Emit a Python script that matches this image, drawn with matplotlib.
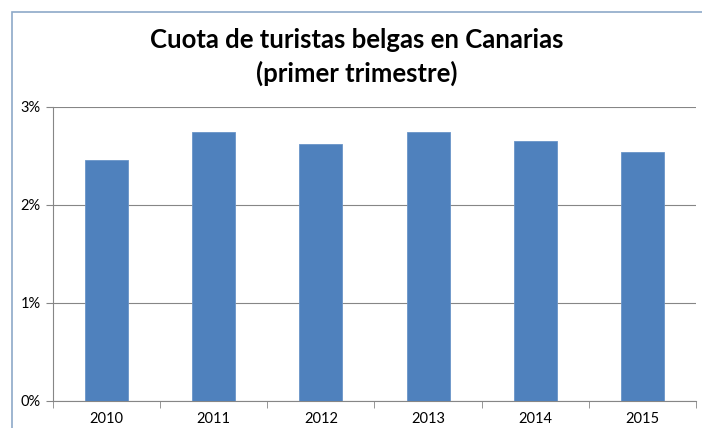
import matplotlib.pyplot as plt
from matplotlib.patches import Rectangle
from matplotlib.ticker import FuncFormatter, FixedLocator
import numpy as np

years = ["2010", "2011", "2012", "2013", "2014", "2015"]
share = [2.46, 2.74, 2.62, 2.74, 2.65, 2.545]
yticks = [0, 1, 2, 3]

plt.rcParams['font.family'] = ['Lato', 'DejaVu Sans']

fig = plt.figure(figsize=(7.02, 4.28), dpi=100)
ax = fig.add_axes([53/702, 1 - 401/428, (696-53)/702, (401-107)/428])

x = np.arange(len(years))
ax.bar(x, share, width=0.4, color='#4F81BD', edgecolor='#6A94C8', linewidth=0.6, zorder=3)
ax.set_xlim(-0.5, len(years) - 0.5)
ax.set_ylim(0, 3)
ax.set_yticks(yticks)
ax.yaxis.set_major_formatter(FuncFormatter(lambda v, p: f"{int(v)}%"))
ax.set_xticks(x)
ax.set_xticklabels(years)
ax.xaxis.set_minor_locator(FixedLocator(np.arange(-0.5, len(years), 1.0)))
ax.tick_params(axis='x', which='major', length=0, pad=8, labelsize=10.5)
ax.tick_params(axis='x', which='minor', length=5, color='#868686', direction='out')
ax.tick_params(axis='y', length=5, color='#868686', labelsize=10.5, pad=4)
ax.grid(axis='y', color='#868686', linewidth=0.8, zorder=0)
for s in ['top', 'right']:
    ax.spines[s].set_visible(False)
for s in ['left', 'bottom']:
    ax.spines[s].set_color('#868686')
    ax.spines[s].set_linewidth(0.8)

fig.text(357/702, 1 - 40/428, "Cuota de turistas belgas en Canarias", ha='center', va='center',
         fontsize=18.5, fontweight='bold')
fig.text(357/702, 1 - 73/428, "(primer trimestre)", ha='center', va='center',
         fontsize=18.5, fontweight='bold')

# chart border
fig.patches.append(Rectangle((12/702, -0.05), 1.2, 1 - 12/428 + 0.05, transform=fig.transFigure,
                             fill=False, edgecolor='#8EA9C8', linewidth=1.2))

fig.savefig("out.png", dpi=100)
